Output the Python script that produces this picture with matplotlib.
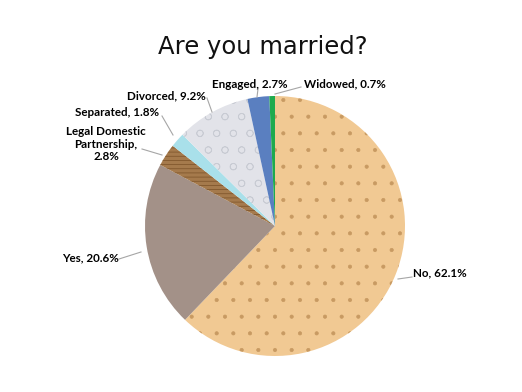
import matplotlib
matplotlib.use("Agg")
import matplotlib.pyplot as plt
import numpy as np

label_names = ["No, ", "Yes, ", "Legal Domestic\nPartnership,\n", "Separated, ", "Divorced, ", "Engaged, ", "Widowed, "]
values = [62.1, 20.6, 2.8, 1.8, 9.2, 2.7, 0.7]
colors = ["#F1C993", "#A39188", "#A57A4C", "#A9E0EA", "#E2E3E9", "#5A7FC0", "#1EAA4E"]
hatch_colors = ["#C89A62", None, "#7A5128", None, "#C8CBD3", None, None]
hatches = [".", None, "----", None, "o", None, None]

# label text centers (pixels) and leader line endpoints near text (pixels)
W, H = 522, 392
cx, cy, R = 275, 226, 130
text_pos = [(440, 273), (90, 258), (106, 144), (117, 112), (166, 96), (250, 84), (345, 84)]
line_start = [(412, 277), (119, 259), (142, 149), (162, 116), (207, 98), (258, 89), (301, 87)]
line_end = [(398, 279), (141, 252), (162, 155), (173, 135), (212, 112), (257, 97), (275, 94)]

plt.rcParams['hatch.linewidth'] = 0.5
fig = plt.figure(figsize=(W / 100, H / 100), dpi=100)
fig.patch.set_facecolor("white")
ax = fig.add_axes([(cx - R) / W, (H - cy - R) / H, 2 * R / W, 2 * R / H])
wedges, _ = ax.pie(values, colors=colors, startangle=90, counterclock=False,
                   radius=1, wedgeprops=dict(linewidth=0))
for w, hc, h in zip(wedges, hatch_colors, hatches):
    if h:
        w.set_hatch(h)
        w.set_edgecolor(hc)
        w.set_linewidth(0)
ax.set_xlim(-1, 1)
ax.set_ylim(-1, 1)
ax.axis("off")

def to_data(p):
    return ((p[0] - cx) / R, (cy - p[1]) / R)

for name, v, tp, ls, le in zip(label_names, values, text_pos, line_start, line_end):
    ax.plot(*zip(to_data(ls), to_data(le)), color="#A6A6A6", lw=0.8, clip_on=False)
    ax.text(*to_data(tp), f"{name}{v}%", ha="center", va="center", fontsize=8.4,
            fontweight="bold", family="Lato", color="#000000", linespacing=1.2,
            clip_on=False)

fig.text(263 / W, 1 - 47 / H, "Are you married?", ha="center", va="center",
         fontsize=17.5, family="DejaVu Sans", color="#111111")

fig.savefig("out.png", dpi=100, facecolor="white")
